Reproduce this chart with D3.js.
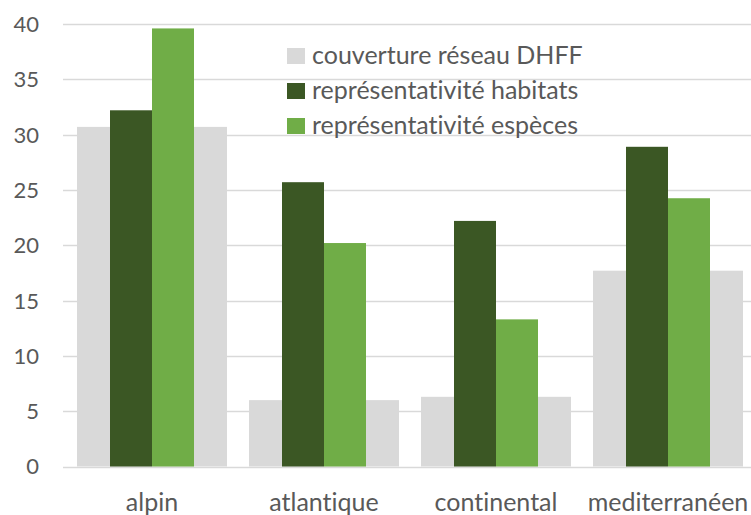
<!DOCTYPE html>
<html>
<head>
<meta charset="utf-8">
<script src="https://cdn.jsdelivr.net/npm/d3@7/dist/d3.min.js"></script>
<style>
  html, body { margin: 0; padding: 0; background: #fff; }
  svg { display: block; }
  text { font-family: Lato, "Open Sans", sans-serif; fill: #595959; font-variant-ligatures: none; font-feature-settings: "liga" 0, "clig" 0; }
</style>
</head>
<body>
<svg id="chart" width="751" height="515"></svg>
<script>
const categories = ["alpin", "atlantique", "continental", "mediterranéen"];
const seriesNames = ["couverture réseau DHFF", "représentativité habitats", "représentativité espèces"];
const couverture = [30.7, 6.0, 6.3, 17.7];
const habitats = [32.2, 25.7, 22.2, 28.9];
const especes = [39.6, 20.2, 13.3, 24.25];
const yTicks = [0, 5, 10, 15, 20, 25, 30, 35, 40];
const colors = ["#d9d9d9", "#3b5724", "#70ad47"];

const svg = d3.select("#chart");
const plotLeft = 63, plotRight = 751;

const x = d3.scaleBand().domain(categories).range([66, 754])
  .paddingInner(0.128).paddingOuter(0.064);
const y = d3.scaleLinear().domain([0, 40]).range([466.5, 24]);

// gridlines
svg.append("g").selectAll("line").data(yTicks).join("line")
  .attr("x1", plotLeft).attr("x2", plotRight)
  .attr("y1", d => Math.round(y(d)) + 0.5).attr("y2", d => Math.round(y(d)) + 0.5)
  .attr("stroke", "#d9d9d9").attr("stroke-width", 1.5);

// y axis labels
const yAxis = d3.axisLeft(y).tickValues(yTicks).tickSize(0).tickPadding(0);
const ya = svg.append("g").attr("transform", "translate(39,0)").call(yAxis);
ya.select(".domain").remove();
ya.selectAll("text").attr("font-size", 22).attr("font-family", "Lato, sans-serif").attr("fill", "#595959").attr("dy", "0.34em");

// gray bars (full band, behind)
svg.append("g").selectAll("rect").data(categories).join("rect")
  .attr("x", d => x(d)).attr("width", x.bandwidth())
  .attr("y", (d, i) => y(couverture[i])).attr("height", (d, i) => y(0) - y(couverture[i]))
  .attr("fill", colors[0]);

// green bars
const inner = d3.scaleBand().domain([1, 2]).range([0, x.bandwidth() * 0.56]);
const offset = x.bandwidth() * 0.22;
[[habitats, 1], [especes, 2]].forEach(([vals, k]) => {
  svg.append("g").selectAll("rect").data(categories).join("rect")
    .attr("x", d => x(d) + offset + inner(k)).attr("width", inner.bandwidth())
    .attr("y", (d, i) => y(vals[i])).attr("height", (d, i) => y(0) - y(vals[i]))
    .attr("fill", colors[k]);
});

// x axis labels
const xAxis = d3.axisBottom(x).tickSize(0).tickPadding(0);
const xa = svg.append("g").attr("transform", "translate(0,511)").call(xAxis);
xa.select(".domain").remove();
xa.selectAll("text").attr("font-size", 25).attr("font-family", "Lato, sans-serif").attr("fill", "#595959").attr("dy", "0");

// legend
const lg = svg.append("g").attr("transform", "translate(287,48)");
seriesNames.forEach((name, i) => {
  const row = lg.append("g").attr("transform", `translate(0,${i * 35})`);
  row.append("rect").attr("width", 18).attr("height", 16).attr("fill", colors[i]);
  row.append("text").attr("x", 25).attr("y", 15.5)
    .attr("font-size", 25).text(name);
});
</script>
</body>
</html>
